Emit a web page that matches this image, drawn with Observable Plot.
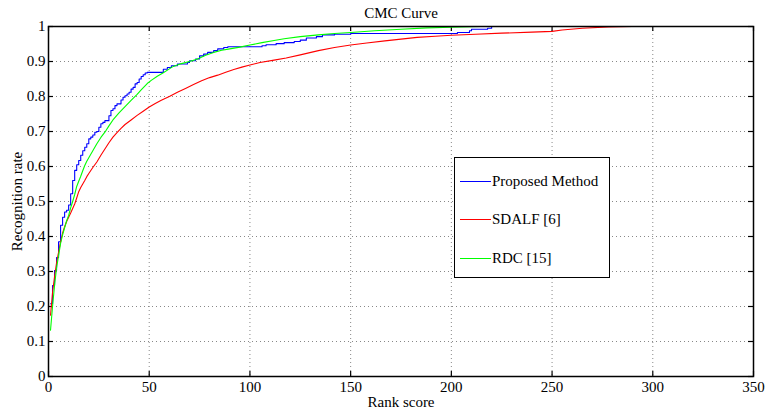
<!DOCTYPE html>
<html><head><meta charset="utf-8">
<script src="https://cdn.jsdelivr.net/npm/d3@7"></script>
<script src="https://cdn.jsdelivr.net/npm/@observablehq/plot@0.6"></script>
<style>
body{margin:0;background:#fff}
#wrap{position:relative;width:766px;height:412px;font-family:"Liberation Serif",serif}
#legend{position:absolute;z-index:2;left:454px;top:157px;width:156px;height:121px;border:1.5px solid #000;background:#fff;box-sizing:border-box;font-size:15px}
.ln{position:absolute;left:5px;width:31px;height:1px}
.lt{position:absolute;left:37px;line-height:16px;white-space:nowrap;color:#000;font-family:"Liberation Serif",serif}
</style></head><body><div id="wrap"><div id="legend"></div></div>
<script>
const title = "CMC Curve";
const xLabel = "Rank score";
const yLabel = "Recognition rate";
const seriesNames = ["Proposed Method", "SDALF [6]", "RDC [15]"];
const seriesColors = ["#0000ff", "#ff0000", "#00ff00"];
const xTicks = [0, 50, 100, 150, 200, 250, 300, 350];
const yTicks = [0, 0.1, 0.2, 0.3, 0.4, 0.5, 0.6, 0.7, 0.8, 0.9, 1];

// Proposed Method (stepped)
const proposedRank = [1,2,3,4,5,6,7,8,9,10,11,12,13,14,15,16,17,18,19,20,21,22,23,24,25,26,27,28,30,31,32,33,34,36,37,38,39,40,41,42,43,44,45,46,47,48,49,56,57,59,61,64,69,70,73,75,77,79,82,84,87,89,106,108,113,117,122,125,128,133,136,142,150,203,209,210,218,220,316];
const proposedRate = [0.208,0.26,0.303,0.34,0.385,0.432,0.455,0.47,0.475,0.49,0.522,0.56,0.589,0.605,0.617,0.632,0.645,0.655,0.665,0.679,0.684,0.69,0.698,0.70,0.712,0.722,0.726,0.731,0.745,0.76,0.765,0.774,0.779,0.79,0.798,0.802,0.807,0.812,0.821,0.826,0.836,0.84,0.85,0.857,0.862,0.867,0.869,0.869,0.878,0.883,0.888,0.893,0.897,0.902,0.907,0.916,0.921,0.926,0.931,0.936,0.94,0.942,0.945,0.948,0.951,0.954,0.957,0.961,0.967,0.971,0.976,0.978,0.980,0.983,0.988,0.992,0.995,1.0,1.0];

// SDALF [6]
const sdalfRank = [1,2,3,4,5,6,7,8,9,10,11,12,13,14,15,16,17,18,19,20,22,24,26,28,30,32,34,36,38,41,44,47,50,53,56,60,64,68,72,76,80,84,88,92,96,100,105,112,118,125,134,142,150,158,167,175,183,192,200,212,225,240,250,255,265,278,290,316];
const sdalfRate = [0.175,0.24,0.285,0.325,0.355,0.385,0.41,0.428,0.443,0.455,0.467,0.48,0.493,0.51,0.528,0.54,0.55,0.56,0.571,0.58,0.597,0.613,0.632,0.65,0.668,0.684,0.697,0.709,0.72,0.733,0.746,0.758,0.77,0.78,0.789,0.8,0.812,0.823,0.834,0.845,0.854,0.861,0.869,0.877,0.884,0.89,0.897,0.904,0.91,0.919,0.931,0.94,0.947,0.953,0.959,0.964,0.969,0.972,0.975,0.978,0.981,0.984,0.986,0.99,0.995,0.999,1.0,1.0];

// RDC [15]
const rdcRank = [1,2,3,4,5,6,7,8,9,10,11,12,13,14,15,16,17,18,19,20,22,24,26,28,30,32,35,38,41,44,46,49,51,54,57,60,62,66,70,74,78,82,86,90,95,100,106,112,117,125,134,142,150,162,175,188,200,215,316];
const rdcRate = [0.132,0.2,0.26,0.31,0.345,0.38,0.405,0.425,0.445,0.46,0.482,0.5,0.52,0.543,0.558,0.572,0.588,0.603,0.615,0.625,0.645,0.665,0.683,0.698,0.716,0.733,0.753,0.771,0.789,0.806,0.819,0.837,0.846,0.858,0.868,0.879,0.886,0.894,0.9,0.907,0.918,0.926,0.932,0.936,0.941,0.947,0.954,0.96,0.965,0.971,0.976,0.98,0.983,0.988,0.992,0.996,0.998,1.0,1.0];

const toRows = (r, v) => r.map((d, i) => ({rank: d, rate: v[i]}));
const proposed = toRows(proposedRank, proposedRate);
const sdalf = toRows(sdalfRank, sdalfRate);
const rdc = toRows(rdcRank, rdcRate);

const W = 766, H = 412, mL = 48, mR = 13, mT = 26, mB = 36;
const fw = W - mL - mR, fh = H - mT - mB, tk = 5;
const fmt = d => String(+d.toFixed(1));
const FF = '"Liberation Serif", serif';

const chart = Plot.plot({
  width: W, height: H,
  marginLeft: mL, marginRight: mR, marginTop: mT, marginBottom: mB,
  style: {fontFamily: FF, fontSize: "15px", color: "#000", background: "#fff"},
  x: {domain: [0, 350]},
  y: {domain: [0, 1]},
  marks: [
    Plot.gridX(xTicks.slice(1, -1), {stroke: "#888", strokeOpacity: 1, strokeDasharray: "1,3"}),
    Plot.gridY(yTicks.slice(1, -1), {stroke: "#888", strokeOpacity: 1, strokeDasharray: "1,3"}),
    Plot.tickX(xTicks, {x: d => d, insetTop: fh - tk, stroke: "#000", strokeWidth: 1.2}),
    Plot.tickX(xTicks, {x: d => d, insetBottom: fh - tk, stroke: "#000", strokeWidth: 1.2}),
    Plot.tickY(yTicks, {y: d => d, insetRight: fw - tk, stroke: "#000", strokeWidth: 1.2}),
    Plot.tickY(yTicks, {y: d => d, insetLeft: fw - tk, stroke: "#000", strokeWidth: 1.2}),
    Plot.axisX(xTicks, {tickSize: 0, tickPadding: 5, label: null, fontSize: 15, fontFamily: FF, fill: "#000"}),
    Plot.axisY(yTicks, {tickSize: 0, tickPadding: 3, tickFormat: fmt, label: null, fontSize: 15, fontFamily: FF, fill: "#000"}),
    Plot.line(proposed, {x: "rank", y: "rate", stroke: seriesColors[0], strokeWidth: 1.1, curve: "step-after"}),
    Plot.line(sdalf, {x: "rank", y: "rate", stroke: seriesColors[1], strokeWidth: 1.1}),
    Plot.line(rdc, {x: "rank", y: "rate", stroke: seriesColors[2], strokeWidth: 1.1}),
    Plot.frame({stroke: "#000", strokeWidth: 1.5}),
    Plot.text([title], {frameAnchor: "top", dy: -13, lineAnchor: "middle", textAnchor: "middle", fontSize: 15, fontFamily: FF, fill: "#000"}),
    Plot.text([xLabel], {frameAnchor: "bottom", dy: 26, lineAnchor: "middle", textAnchor: "middle", fontSize: 15, fontFamily: FF, fill: "#000"}),
    Plot.text([yLabel], {frameAnchor: "left", dx: -31, rotate: -90, lineAnchor: "middle", textAnchor: "middle", fontSize: 15, fontFamily: FF, fill: "#000"})
  ]
});
const wrap = document.getElementById("wrap");
wrap.insertBefore(chart, wrap.firstChild);

const legend = document.getElementById("legend");
const rowY = [23, 61, 100];
seriesNames.forEach((name, i) => {
  const l = document.createElement("div");
  l.className = "ln";
  l.style.top = rowY[i] + "px";
  l.style.background = seriesColors[i];
  legend.appendChild(l);
  const t = document.createElement("div");
  t.className = "lt";
  t.style.top = (rowY[i] - 8) + "px";
  t.textContent = name;
  legend.appendChild(t);
});
</script></body></html>
